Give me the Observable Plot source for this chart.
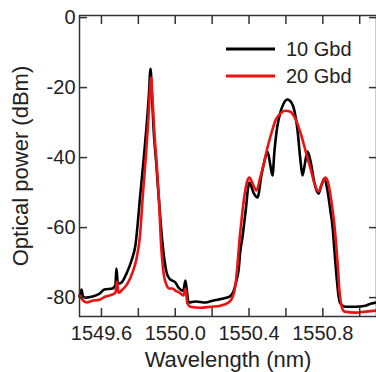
<!DOCTYPE html>
<html><head><meta charset="utf-8">
<script src="https://cdn.jsdelivr.net/npm/d3@7"></script>
<script src="https://cdn.jsdelivr.net/npm/@observablehq/plot@0.6"></script>
<style>
body{margin:0;background:#fff;}
#wrap{position:relative;width:376px;height:372px;overflow:hidden;}
#legend{position:absolute;left:0;top:0;pointer-events:none;}
</style></head><body>
<div id="wrap"></div>
<script>
const FONT = '"Liberation Sans", Arial, sans-serif';

const series = ["10 Gbd", "20 Gbd"];
const colors = ["#000000", "#ee1111"];

// 10 Gbd spectrum (wavelength nm, power dBm)
const wl10 = [1549.481,1549.492,1549.500,1549.519,1549.551,1549.589,1549.616,1549.660,1549.676,1549.681,1549.689,1549.708,1549.736,1549.763,1549.784,1549.811,1549.828,1549.844,1549.857,1549.866,1549.874,1549.882,1549.896,1549.909,1549.931,1549.952,1549.969,1550.001,1550.017,1550.044,1550.055,1550.063,1550.072,1550.110,1550.164,1550.202,1550.229,1550.256,1550.294,1550.315,1550.332,1550.343,1550.353,1550.364,1550.380,1550.402,1550.424,1550.446,1550.467,1550.484,1550.500,1550.516,1550.527,1550.538,1550.554,1550.570,1550.587,1550.608,1550.630,1550.646,1550.663,1550.679,1550.690,1550.701,1550.717,1550.733,1550.755,1550.776,1550.792,1550.809,1550.825,1550.841,1550.852,1550.863,1550.874,1550.885,1550.895,1550.922,1550.977,1551.031,1551.063,1551.091];
const p10 = [-79.7,-77.7,-79.7,-80.0,-79.7,-78.9,-77.7,-77.4,-76.3,-71.7,-76.0,-75.7,-73.1,-69.4,-65.1,-50.3,-40.9,-31.4,-22.3,-14.6,-22.3,-31.4,-40.9,-50.3,-64.6,-72.6,-74.6,-75.7,-77.1,-78.0,-75.1,-78.0,-81.4,-81.1,-81.4,-80.9,-80.6,-80.3,-79.7,-78.3,-75.1,-72.3,-66.6,-62.9,-56.0,-47.1,-50.0,-51.4,-45.1,-40.9,-38.3,-42.3,-45.1,-38.0,-30.9,-27.1,-24.6,-23.4,-24.3,-26.6,-32.3,-40.9,-45.1,-42.3,-38.3,-40.9,-47.4,-50.3,-48.0,-46.0,-49.4,-55.1,-59.4,-66.6,-73.7,-79.4,-81.7,-82.6,-82.6,-82.3,-81.7,-81.4];

// 20 Gbd spectrum
const wl20 = [1549.481,1549.502,1549.519,1549.551,1549.589,1549.622,1549.660,1549.676,1549.684,1549.692,1549.714,1549.741,1549.768,1549.790,1549.809,1549.825,1549.841,1549.852,1549.860,1549.869,1549.877,1549.888,1549.902,1549.912,1549.923,1549.937,1549.952,1549.969,1549.985,1550.001,1550.023,1550.044,1550.055,1550.066,1550.082,1550.137,1550.191,1550.245,1550.289,1550.310,1550.326,1550.337,1550.348,1550.359,1550.375,1550.391,1550.402,1550.419,1550.440,1550.462,1550.478,1550.500,1550.522,1550.543,1550.570,1550.597,1550.624,1550.651,1550.679,1550.706,1550.733,1550.755,1550.776,1550.798,1550.814,1550.830,1550.846,1550.863,1550.879,1550.890,1550.901,1550.917,1550.977,1551.031,1551.091];
const p20 = [-79.4,-80.9,-81.4,-80.9,-80.6,-79.7,-79.1,-78.6,-75.4,-78.6,-77.7,-76.0,-72.9,-68.9,-62.3,-50.3,-39.4,-30.9,-23.7,-17.1,-23.7,-33.7,-43.7,-52.3,-64.6,-73.1,-76.3,-77.4,-77.4,-78.0,-78.6,-79.4,-77.4,-81.7,-82.6,-82.9,-82.6,-82.3,-81.4,-80.0,-76.6,-70.9,-63.7,-58.0,-50.9,-46.6,-45.7,-47.4,-49.4,-45.4,-42.3,-37.1,-32.9,-29.4,-27.4,-26.6,-26.9,-28.9,-32.9,-38.0,-43.1,-47.4,-49.7,-47.1,-45.7,-47.4,-52.3,-59.4,-69.4,-78.0,-82.3,-84.0,-84.3,-84.0,-83.7];

const xTicks = [1549.6,1549.8,1550.0,1550.2,1550.4,1550.6,1550.8,1551.0];
const xLabels = [1549.6,1550.0,1550.4,1550.8];
const yTicks = [-80,-60,-40,-20,0];
const xTitle = "Wavelength (nm)";
const yTitle = "Optical power (dBm)";

const d10 = wl10.map((w,i)=>({wl:w, p:p10[i]}));
const d20 = wl20.map((w,i)=>({wl:w, p:p20[i]}));

const AX = "#333";
const chart = Plot.plot({
  width: 376, height: 372,
  marginLeft: 79, marginRight: 0, marginTop: 15, marginBottom: 56,
  style: {fontSize: "20px", fontFamily: FONT, color: "#222", background: "#fff"},
  x: {domain: [1549.481, 1551.091]},
  y: {domain: [-85.4, 0.6]},
  marks: [
    Plot.line(d10, {x: "wl", y: "p", stroke: colors[0], strokeWidth: 2.6, curve: "monotone-x"}),
    Plot.line(d20, {x: "wl", y: "p", stroke: colors[1], strokeWidth: 2.6, curve: "monotone-x"}),
    Plot.frame({stroke: AX, strokeWidth: 1.5}),
    Plot.axisX(xTicks, {anchor: "bottom", tickSize: -8, fill: "none", stroke: AX, strokeWidth: 1.5, label: null}),
    Plot.axisX(xTicks, {anchor: "top", tickSize: -8, fill: "none", stroke: AX, strokeWidth: 1.5, label: null}),
    Plot.axisX(xLabels, {anchor: "bottom", tickSize: 0, tickPadding: 9, tickFormat: d => d.toFixed(1), fill: "#222", label: null}),
    Plot.axisY(yTicks, {anchor: "left", tickSize: -8, fill: "none", stroke: AX, strokeWidth: 1.5, label: null}),
    Plot.axisY(yTicks, {anchor: "right", tickSize: -8, fill: "none", stroke: AX, strokeWidth: 1.5, label: null}),
    Plot.axisY(yTicks, {anchor: "left", tickSize: 0, tickPadding: 4, tickFormat: d => String(d), fill: "#222", label: null}),
    Plot.text([xTitle], {frameAnchor: "bottom", textAnchor: "middle", lineAnchor: "middle", dy: 43, fontSize: 22, fill: "#222"}),
    Plot.text([yTitle], {frameAnchor: "left", textAnchor: "middle", lineAnchor: "middle", rotate: -90, dx: -59, fontSize: 22, fill: "#222"})
  ]
});
document.getElementById("wrap").appendChild(chart);

// legend overlay
const leg = d3.select("#wrap").append("svg").attr("id","legend").attr("width",376).attr("height",372);
const g = leg.selectAll("g").data(series).join("g")
  .attr("transform", (d,i) => `translate(226,${49 + i*27})`);
g.append("line").attr("x1",0).attr("x2",49).attr("y1",0).attr("y2",0)
  .attr("stroke",(d,i)=>colors[i]).attr("stroke-width",3);
g.append("text").attr("x",60).attr("y",0).attr("dy","0.35em")
  .attr("font-family",FONT).attr("font-size",20).attr("fill","#222").text(d=>d);
</script>
</body></html>
